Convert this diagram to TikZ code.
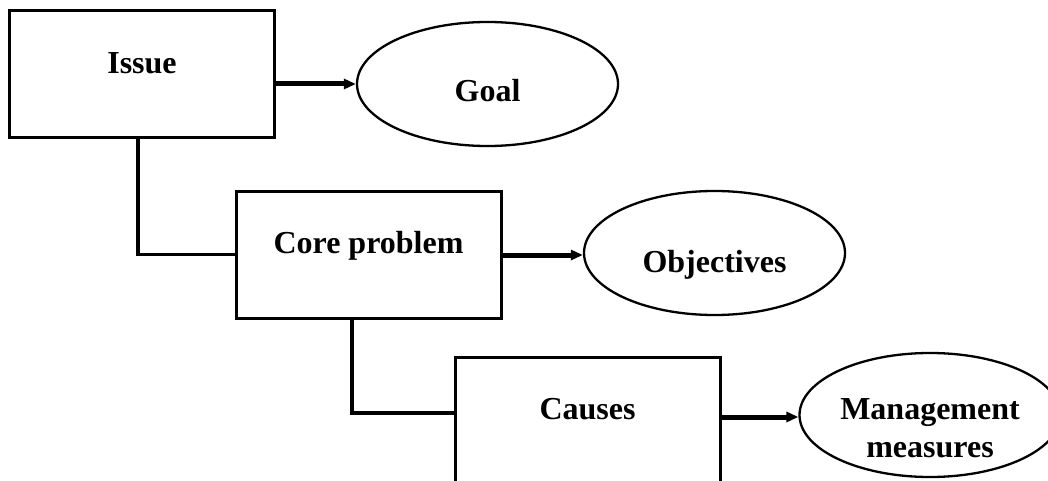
\documentclass[tikz,border=0pt]{standalone}
\usepackage{fontspec}
\setmainfont{Liberation Serif}
\usetikzlibrary{arrows.meta,shapes.geometric}
\begin{document}
\begin{tikzpicture}[x=1pt,y=-1pt,
  txt/.style={font=\fontsize{32}{35}\selectfont\bfseries},
  box/.style={txt, draw, line width=3pt, rectangle, minimum width=265pt, minimum height=127pt, inner sep=0pt},
  oval/.style={txt, draw, line width=2.3pt, ellipse, minimum width=261pt, minimum height=124pt, inner sep=0pt},
  conn/.style={line width=3.5pt},
  arr/.style={line width=5pt, -{Triangle[length=12pt,width=10pt]}}]
\useasboundingbox (0,0) rectangle (1048,481);
\clip (0,0) rectangle (1048,481);

\node[box] (issue) at (142,74.5) {\raisebox{1pt}[0pt][0pt]{Issue}};
\node[oval] (goal) at (487.5,84) {\raisebox{-18pt}[0pt][0pt]{Goal}};

\node[box] (core) at (368.5,254.5) {\raisebox{1pt}[0pt][0pt]{Core problem}};
\node[oval] (obj) at (714.5,253) {\raisebox{-19pt}[0pt][0pt]{Objectives}};

\node[box] (causes) at (587.5,420.5) {\raisebox{1pt}[0pt][0pt]{Causes}};
\node[oval] (mgmt) at (930,415) {\raisebox{-4pt}[0pt][0pt]{\begin{tabular}[t]{@{}c@{}}Management\\[3pt]measures\end{tabular}}};

\draw[conn] ([xshift=-4pt]issue.south) |- (core.west);
\draw[conn] ([xshift=-16.5pt]core.south) |- ([yshift=7.5pt]causes.west);

\draw[arr] (issue.east |- goal.west) -- (goal.west);
\draw[arr] ([yshift=-2pt]core.east |- obj.west) -- ([yshift=-2pt]obj.west);
\draw[arr] ([yshift=-2pt]causes.east |- mgmt.west) -- ([yshift=-2pt]mgmt.west);
\end{tikzpicture}
\end{document}
